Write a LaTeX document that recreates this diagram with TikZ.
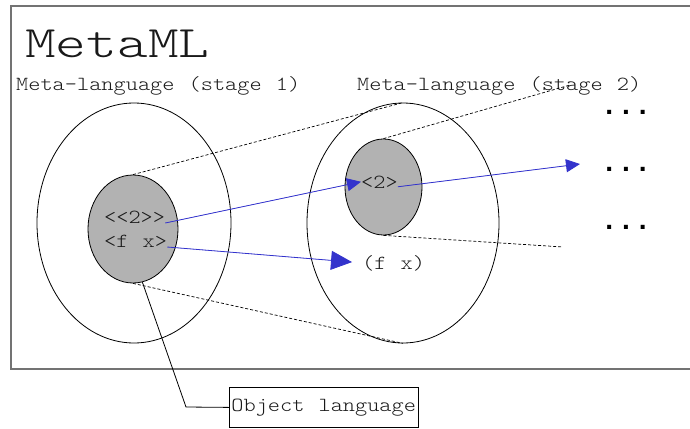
\documentclass[tikz,border=0pt]{standalone}
\usepackage{fontspec}
\setmonofont{Latin Modern Mono Light}[FakeStretch=1.16,WordSpace=1.16]
\newfontfamily\titlefont{Latin Modern Mono Light}[FakeStretch=1.3]
\newfontfamily\dotfont{Liberation Mono}
\usetikzlibrary{shapes.geometric,arrows.meta}
\definecolor{arrowblue}{RGB}{51,51,204}
\definecolor{txtgray}{RGB}{25,25,25}
\tikzset{
  lbl/.style={font=\ttfamily\fontsize{20}{24}\selectfont, text=txtgray, inner sep=0pt},
  dotrow/.style={font=\dotfont\bfseries\fontsize{28}{30}\selectfont, inner sep=0pt},
  outer/.style={draw, ellipse, line width=0.8pt, inner sep=0pt},
  inner/.style={draw, ellipse, fill=black!30, line width=0.8pt, inner sep=0pt},
  dotted link/.style={dash pattern=on 3pt off 2pt, line width=0.7pt},
  blue link/.style={draw=arrowblue, fill=arrowblue, line width=0.8pt, -{Triangle[length=14pt,width=13pt]}}
}
\begin{document}
\begin{tikzpicture}[x=1pt,y=-1pt]
\useasboundingbox (0,0) rectangle (690,428);
\draw[black!55, line width=1.2pt] (690,6) -- (11,6) -- (11,369) -- (690,369);
\node[lbl, anchor=base west, font=\titlefont\fontsize{45}{50}\selectfont] (title) at (25,57) {MetaML};
\node[lbl, anchor=base west] (stage1) at (16,90) {Meta-language (stage 1)};
\node[lbl, anchor=base west] (stage2) at (357,90) {Meta-language (stage 2)};
% stages
\node[outer, minimum width=194pt, minimum height=240pt] (meta1) at (134,223) {};
\node[outer, minimum width=192pt, minimum height=240pt] (meta2) at (403,223) {};
\node[inner, minimum width=90pt, minimum height=108pt] (obj1) at (133,229) {};
\node[inner, minimum width=77pt, minimum height=96pt] (obj2) at (383.5,187) {};
\node[lbl, anchor=base west] (q22) at (104,223) {<<2>>};
\node[lbl, anchor=base west] (qfx) at (104,247) {<f x>};
\node[lbl, anchor=base west] (q2) at (361,188) {<2>};
\node[lbl, anchor=base west] (fx) at (362,269) {(f x)};
\coordinate (up3) at (570,85);
\coordinate (down3) at (563,247);
\coordinate (out2) at (580,164);
\draw[dotted link] (obj1.north) -- (meta2.north);
\draw[dotted link] (obj1.south) -- (meta2.south);
\draw[dotted link] (obj2.north) -- (up3);
\draw[dotted link] (obj2.south) -- (down3);
\draw[blue link] (q22.base east) -- (q2.west);
\draw[blue link, -{Triangle[length=21pt,width=19pt]}, shorten >=10pt] (qfx.base east) -- (fx.west);
\draw[blue link] ([yshift=-5pt]q2.east) -- (out2);
\foreach \y [count=\i] in {114,171,229}
  \node[dotrow, anchor=base] (dots\i) at (626,\y) {...};
% object language
\node[lbl, draw, text=txtgray, line width=0.8pt, anchor=north west, minimum height=40pt, minimum width=188pt, inner xsep=2pt] (objlang) at (229,387) {Object language};
\coordinate (elbow) at (186,407);
\draw[line width=0.8pt] (obj1.-80) -- (elbow) -- (objlang.west);
\end{tikzpicture}
\end{document}
